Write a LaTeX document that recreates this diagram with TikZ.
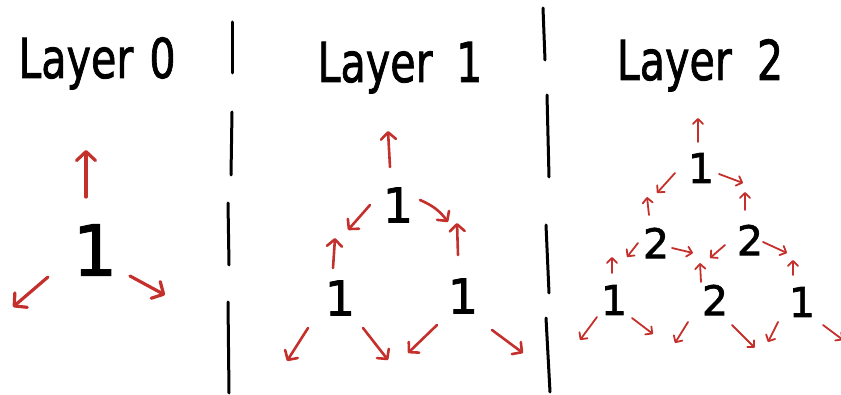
\documentclass[tikz,border=0pt]{standalone}
\usepackage{fontspec}
\setmainfont{DejaVu Sans}
\newfontfamily\handfont[FakeBold=1.6]{DejaVu Sans}
\usetikzlibrary{arrows.meta}
\definecolor{inkred}{RGB}{196,48,43}
\tikzset{
  title/.style={anchor=base,inner sep=0pt,font=\handfont\fontsize{55}{60}\selectfont},
  dA/.style={inner sep=0pt,font=\handfont\fontsize{70}{72}\selectfont},
  dB/.style={inner sep=0pt,font=\handfont\fontsize{48}{50}\selectfont},
  dC/.style={inner sep=0pt,font=\handfont\fontsize{41}{44}\selectfont},
  divider/.style={line width=3pt,line cap=round,black},
  arrA/.style={inkred,line width=3.2pt,line cap=round,-{Straight Barb[length=9pt,width=19pt,round]}},
  arrB/.style={inkred,line width=2.6pt,line cap=round,-{Straight Barb[length=7pt,width=15pt,round]}},
  arrC/.style={inkred,line width=1.8pt,line cap=round,-{Straight Barb[length=5pt,width=10pt,round]}},
}
\begin{document}
\begin{tikzpicture}[x=1pt,y=-1pt]
\useasboundingbox (0,0) rectangle (841,395);
\clip (0,0) rectangle (841,395);
% titles
\node[title] (t0) at (97,78) {\scalebox{0.75}[1]{Layer \hspace{4pt}0}};
\node[title] (t1) at (400,82) {\scalebox{0.75}[1]{Layer \hspace{14pt}1}};
\node[title] (t2) at (700,80) {\scalebox{0.75}[1]{Layer \hspace{16pt}2}};
% dividers
\draw[divider] (232,22) -- (232,73);
\draw[divider] (232,112) -- (231,175);
\draw[divider] (228,203) -- (229,265);
\draw[divider] (228,302) -- (229,393);
\draw[divider] (543,8) -- (545,60);
\draw[divider] (547,95) -- (549,177);
\draw[divider] (546,225) -- (549,293);
\draw[divider] (546,318) -- (550,392);
% layer 0
\node[dA] (a) at (95,250) {1};
\coordinate (a1s) at (86,197); \coordinate (a1e) at (86,150);
\coordinate (a2s) at (48,277); \coordinate (a2e) at (13,307);
\coordinate (a3s) at (130,276); \coordinate (a3e) at (165,295);
\draw[arrA] (a1s) -- (a1e);
\draw[arrA] (a2s) -- (a2e);
\draw[arrA] (a3s) -- (a3e);
% layer 1
\node[dB] (bt) at (398,205) {1};
\node[dB] (bl) at (340,298) {1};
\node[dB] (br) at (463,296) {1};
\coordinate (b1s) at (390,167); \coordinate (b1e) at (388,131);
\coordinate (b2s) at (370,205); \coordinate (b2e) at (348,230);
\coordinate (b3s) at (420,200); \coordinate (b3e) at (448,222);
\coordinate (b4s) at (333,268); \coordinate (b4e) at (335,238);
\coordinate (b5s) at (458,255); \coordinate (b5e) at (457,223);
\coordinate (b6s) at (308,328); \coordinate (b6e) at (287,361);
\coordinate (b7s) at (363,328); \coordinate (b7e) at (388,360);
\coordinate (b8s) at (437,325); \coordinate (b8e) at (408,353);
\coordinate (b9s) at (492,330); \coordinate (b9e) at (523,353);
\draw[arrB] (b1s) -- (b1e);
\draw[arrB] (b2s) -- (b2e);
\draw[arrB] (b3s) to[bend left=15] (b3e);
\draw[arrB] (b4s) -- (b4e);
\draw[arrB] (b5s) -- (b5e);
\draw[arrB] (b6s) -- (b6e);
\draw[arrB] (b7s) -- (b7e);
\draw[arrB] (b8s) -- (b8e);
\draw[arrB] (b9s) -- (b9e);
% layer 2
\node[dC] (ct) at (701,168) {1};
\node[dC] (cm1) at (656,243) {2};
\node[dC] (cm2) at (750,240) {2};
\node[dC] (cb1) at (614,300) {1};
\node[dC] (cb2) at (715,300) {2};
\node[dC] (cb3) at (802,302) {1};
\coordinate (c1s) at (698,142); \coordinate (c1e) at (698,118);
\coordinate (c2s) at (675,173); \coordinate (c2e) at (657,193);
\coordinate (c3s) at (719,174); \coordinate (c3e) at (743,183);
\coordinate (c4s) at (649,215); \coordinate (c4e) at (647,197);
\coordinate (c5s) at (745,210); \coordinate (c5e) at (745,192);
\coordinate (c6s) at (638,243); \coordinate (c6e) at (627,257);
\coordinate (c7s) at (672,248); \coordinate (c7e) at (693,253);
\coordinate (c8s) at (725,245); \coordinate (c8e) at (710,258);
\coordinate (c9s) at (763,242); \coordinate (c9e) at (787,253);
\coordinate (c10s) at (612,273); \coordinate (c10e) at (612,257);
\coordinate (c11s) at (701,282); \coordinate (c11e) at (700,263);
\coordinate (c12s) at (793,275); \coordinate (c12e) at (793,260);
\coordinate (c13s) at (597,317); \coordinate (c13e) at (580,340);
\coordinate (c14s) at (632,318); \coordinate (c14e) at (653,334);
\coordinate (c15s) at (688,322); \coordinate (c15e) at (675,343);
\coordinate (c16s) at (732,325); \coordinate (c16e) at (755,348);
\coordinate (c17s) at (778,322); \coordinate (c17e) at (768,342);
\coordinate (c18s) at (823,325); \coordinate (c18e) at (843,340);
\foreach \i in {1,...,18} {\draw[arrC] (c\i s) -- (c\i e);}
\end{tikzpicture}
\end{document}
